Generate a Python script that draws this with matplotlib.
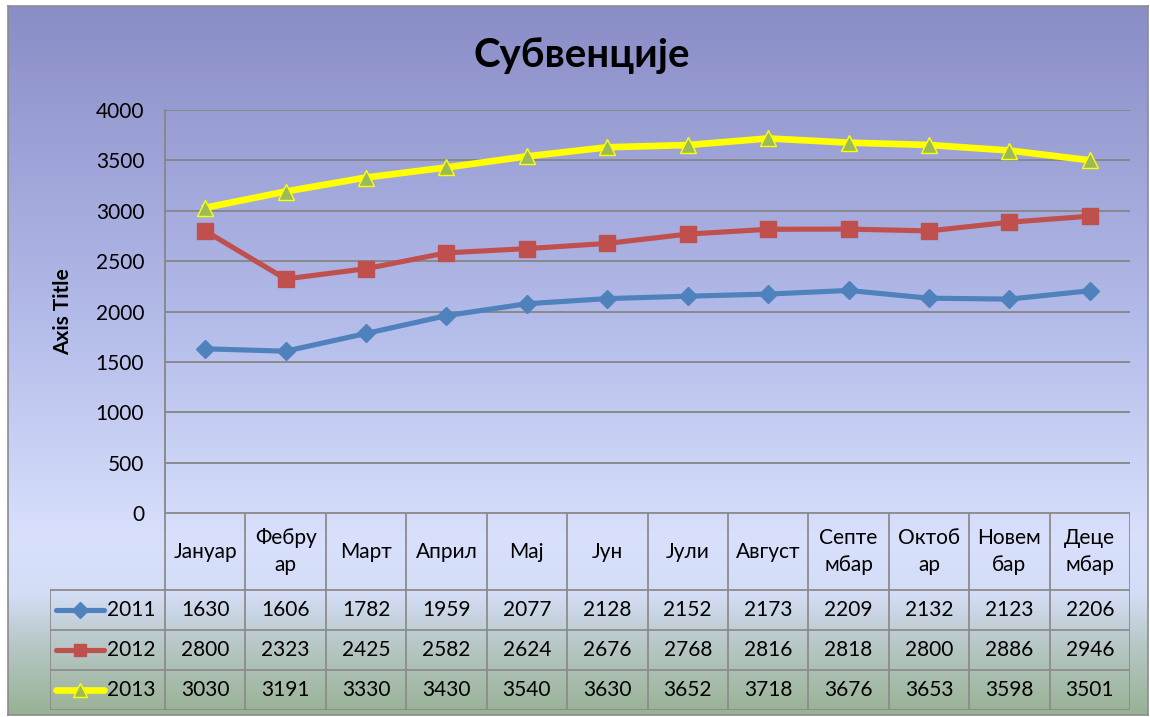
import matplotlib.pyplot as plt
import numpy as np
from matplotlib.colors import LinearSegmentedColormap

plt.rcParams['font.family'] = ['Lato', 'Noto Sans', 'DejaVu Sans']

# подаци
months = ["Јануар", "Фебру\nар", "Март", "Април", "Мај", "Јун", "Јули",
          "Август", "Септе\nмбар", "Октоб\nар", "Новем\nбар", "Деце\nмбар"]
years = ["2011", "2012", "2013"]
v2011 = [1630, 1606, 1782, 1959, 2077, 2128, 2152, 2173, 2209, 2132, 2123, 2206]
v2012 = [2800, 2323, 2425, 2582, 2624, 2676, 2768, 2816, 2818, 2800, 2886, 2946]
v2013 = [3030, 3191, 3330, 3430, 3540, 3630, 3652, 3718, 3676, 3653, 3598, 3501]
yticks = [0, 500, 1000, 1500, 2000, 2500, 3000, 3500, 4000]

W, H = 1150, 717
fs = 15
fig = plt.figure(figsize=(W / 100, H / 100), dpi=100)
fig.patch.set_facecolor('white')

# позадина са градијентом
bg = fig.add_axes([8 / W, 2 / H, 1140 / W, 709 / H])
cmap = LinearSegmentedColormap.from_list('bg', [
    (0.0, '#8A8DC6'), (0.45, '#B4BCEA'), (0.75, '#D8E0FC'),
    (0.83, '#D4DDF6'), (0.90, '#B8C8C8'), (1.0, '#98B294')])
grad = np.linspace(0, 1, 256).reshape(-1, 1)
bg.imshow(grad, aspect='auto', cmap=cmap, extent=[0, 1, 0, 1], origin='upper')
bg.set_xticks([])
bg.set_yticks([])
for s in bg.spines.values():
    s.set_color('#8C8C8C')
    s.set_linewidth(1.2)

grid_c = '#868686'

# главни график
x = np.arange(len(months))
ax = fig.add_axes([165 / W, 1 - 513 / H, 965 / W, 403 / H])
ax.patch.set_alpha(0)
ax.set_xlim(-0.5, 11.5)
ax.set_ylim(0, 4000)
ax.set_yticks(yticks)
ax.tick_params(axis='y', labelsize=fs, length=0, pad=15)
ax.set_xticks([])
ax.grid(axis='y', color=grid_c, linewidth=1.3)
for k in ['top', 'right', 'bottom']:
    ax.spines[k].set_visible(False)
ax.spines['left'].set_color(grid_c)
ax.spines['left'].set_linewidth(1.3)
ax.set_ylabel('Axis Title', fontsize=15, fontweight='bold', labelpad=16)

styles = [
    dict(color='#4F81BD', marker='D', markersize=9, lw=3.7,
         markerfacecolor='#4F81BD', markeredgecolor='#4F81BD'),
    dict(color='#C0504D', marker='s', markersize=11, lw=3.7,
         markerfacecolor='#C0504D', markeredgecolor='#C0504D'),
    dict(color='#FFFF00', marker='^', markersize=12, lw=4.8,
         markerfacecolor='#9BBB59', markeredgecolor='#FFFF00', markeredgewidth=1),
]
series = [v2011, v2012, v2013]
for vals, st in zip(series, styles):
    ax.plot(x, vals, zorder=3, clip_on=False, **st)

fig.text(582 / W, 1 - 55 / H, 'Субвенције', fontsize=29, fontweight='bold',
         ha='center', va='center')

# табела са подацима
tx0 = -0.5 - 115 / (965 / 12)
tab = fig.add_axes([50 / W, 1 - 710 / H, 1080 / W, 197 / H])
tab.set_xlim(tx0, 11.5)
tab.set_ylim(0, 197 / 40)
tab.axis('off')
hdr_top = 197 / 40
lc = '#8C8C8C'
# хоризонталне линије
tab.plot([-0.5, 11.5], [hdr_top, hdr_top], color=lc, lw=1.3)
for yy in [0, 1, 2, 3]:
    tab.plot([tx0, 11.5], [yy, yy], color=lc, lw=1.3)
# вертикалне линије
tab.plot([tx0, tx0], [0, 3], color=lc, lw=1.3)
for i in range(13):
    tab.plot([i - 0.5, i - 0.5], [0, hdr_top], color=lc, lw=1.3)

for i, m in enumerate(months):
    tab.text(i, (3 + hdr_top) / 2, m, ha='center', va='center',
             fontsize=fs, linespacing=1.45)

px = 965 / 12
for r, (yr, vals, st) in enumerate(zip(years, series, styles)):
    yc = 2.5 - r
    tab.plot([tx0 + 6 / px, tx0 + 54 / px], [yc, yc], color=st['color'],
             lw=st['lw'], solid_capstyle='round')
    tab.plot([tx0 + 30 / px], [yc], marker=st['marker'],
             markersize=st['markersize'] * 0.85,
             markerfacecolor=st['markerfacecolor'],
             markeredgecolor=st['markeredgecolor'])
    tab.text(tx0 + 57 / px, yc, yr, ha='left', va='center', fontsize=fs)
    for i, v in enumerate(vals):
        tab.text(i, yc, str(v), ha='center', va='center', fontsize=fs)

fig.savefig('out.png', dpi=100)
